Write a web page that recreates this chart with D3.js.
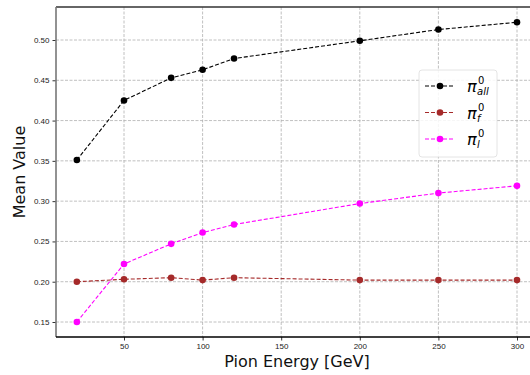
<!DOCTYPE html>
<html>
<head>
<meta charset="utf-8">
<script src="https://cdn.jsdelivr.net/npm/d3@7"></script>
<style>
  body { margin: 0; background: #fff; }
  svg { display: block; font-family: 'DejaVu Sans', sans-serif; }
</style>
</head>
<body>
<script>
var energies = [20, 50, 80, 100, 120, 200, 250, 300];
var piAll = [0.351, 0.425, 0.453, 0.463, 0.477, 0.499, 0.513, 0.522];
var piF = [0.200, 0.203, 0.205, 0.202, 0.205, 0.202, 0.202, 0.202];
var piL = [0.150, 0.222, 0.247, 0.261, 0.271, 0.297, 0.310, 0.319];
var xTicks = [50, 100, 150, 200, 250, 300];
var yTicks = [0.15, 0.20, 0.25, 0.30, 0.35, 0.40, 0.45, 0.50];

var series = [
  { sub: 'all', values: piAll, color: '#000000' },
  { sub: 'f', values: piF, color: '#a52a2a' },
  { sub: 'l', values: piL, color: '#ff00ff' }
];

var w = 530, h = 375;
// plot frame (right edge runs past the window, as in the original)
var pLeft = 56, pTop = 7, pRight = 538, pBottom = 337;

var x = d3.scaleLinear().domain([50, 300]).range([124, 517]);
var y = d3.scaleLinear().domain([0.15, 0.50]).range([322, 40]);

var svg = d3.select('body').append('svg')
  .attr('width', w)
  .attr('height', h);

// grid
svg.append('g').selectAll('line')
    .data(xTicks)
  .enter().append('line')
    .attr('x1', function(d) { return x(d); })
    .attr('x2', function(d) { return x(d); })
    .attr('y1', pTop).attr('y2', pBottom)
    .attr('stroke', '#b0b0b0').attr('stroke-width', 0.8)
    .attr('stroke-dasharray', '3,1.5');

svg.append('g').selectAll('line')
    .data(yTicks)
  .enter().append('line')
    .attr('x1', pLeft).attr('x2', pRight)
    .attr('y1', function(d) { return y(d); })
    .attr('y2', function(d) { return y(d); })
    .attr('stroke', '#b0b0b0').attr('stroke-width', 0.8)
    .attr('stroke-dasharray', '3,1.5');

// axes
var xAxis = svg.append('g')
  .attr('transform', 'translate(0,' + pBottom + ')')
  .call(d3.axisBottom(x).tickValues(xTicks).tickSize(3.5).tickPadding(3));
var yAxis = svg.append('g')
  .attr('transform', 'translate(' + pLeft + ',0)')
  .call(d3.axisLeft(y).tickValues(yTicks).tickSize(3.5).tickPadding(3).tickFormat(d3.format('.2f')));

[xAxis, yAxis].forEach(function(a) {
  a.select('.domain').remove();
  a.selectAll('text').attr('fill', '#222').style('font-size', '8px');
  a.selectAll('line').attr('stroke', '#333');
});

// spines
svg.append('line').attr('x1', pLeft).attr('x2', pRight).attr('y1', pTop).attr('y2', pTop)
  .attr('stroke', '#333').attr('stroke-width', 1.3);
svg.append('line').attr('x1', pLeft).attr('x2', pLeft).attr('y1', pTop).attr('y2', pBottom)
  .attr('stroke', '#777').attr('stroke-width', 1.6);
svg.append('line').attr('x1', pLeft).attr('x2', pRight).attr('y1', pBottom).attr('y2', pBottom)
  .attr('stroke', '#000').attr('stroke-width', 1.3);

// series
var line = d3.line()
  .x(function(d, i) { return x(energies[i]); })
  .y(function(d) { return y(d); });

series.forEach(function(s) {
  svg.append('path')
    .datum(s.values)
    .attr('d', line)
    .attr('fill', 'none')
    .attr('stroke', s.color)
    .attr('stroke-width', 1.1)
    .attr('stroke-dasharray', '4,2');
  svg.append('g').selectAll('circle')
      .data(s.values)
    .enter().append('circle')
      .attr('cx', function(d, i) { return x(energies[i]); })
      .attr('cy', function(d) { return y(d); })
      .attr('r', 3.3)
      .attr('fill', s.color);
});

// legend
var lg = svg.append('g');
lg.append('rect')
  .attr('x', 419).attr('y', 70).attr('width', 78).attr('height', 87)
  .attr('rx', 3)
  .attr('fill', '#fff').attr('fill-opacity', 0.85)
  .attr('stroke', '#ddd').attr('stroke-width', 0.8);

series.forEach(function(s, i) {
  var ly = 86 + i * 26.5;
  lg.append('line')
    .attr('x1', 425).attr('x2', 455).attr('y1', ly).attr('y2', ly)
    .attr('stroke', s.color).attr('stroke-width', 1.1)
    .attr('stroke-dasharray', '4,2');
  lg.append('circle').attr('cx', 440).attr('cy', ly).attr('r', 3.3).attr('fill', s.color);
  lg.append('text')
    .attr('x', 467).attr('y', ly + 6)
    .attr('fill', '#000')
    .style('font-size', '16px')
    .style('font-style', 'italic')
    .text('π');
  lg.append('text')
    .attr('x', 478).attr('y', ly - 2)
    .attr('fill', '#000')
    .style('font-size', '10px')
    .text('0');
  lg.append('text')
    .attr('x', 477).attr('y', ly + 9)
    .attr('fill', '#000')
    .style('font-size', '10px')
    .style('font-style', 'italic')
    .text(s.sub);
});

// axis labels
svg.append('text')
  .attr('x', 297).attr('y', 367)
  .attr('text-anchor', 'middle')
  .style('font-size', '16px')
  .attr('fill', '#111')
  .text('Pion Energy [GeV]');

svg.append('text')
  .attr('transform', 'translate(25,' + ((pTop + pBottom) / 2) + ') rotate(-90)')
  .attr('text-anchor', 'middle')
  .style('font-size', '16px')
  .attr('fill', '#111')
  .text('Mean Value');
</script>
</body>
</html>
